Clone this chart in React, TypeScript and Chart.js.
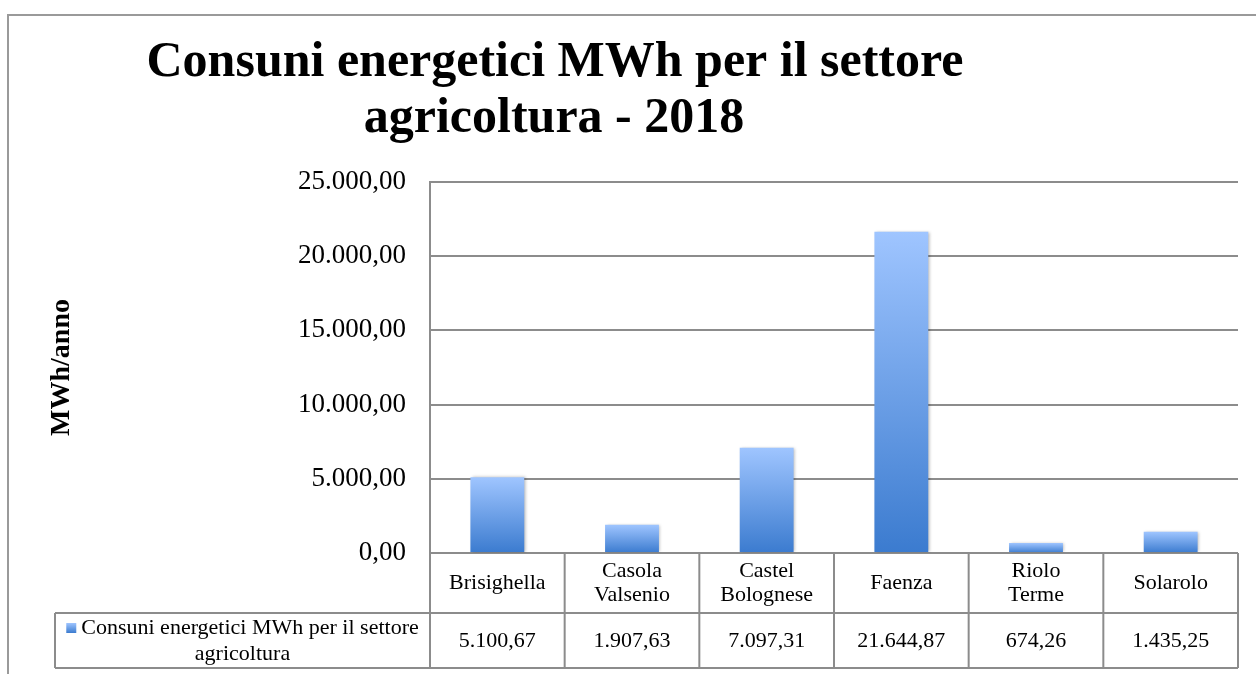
import React, { useEffect, useRef } from "react";
import { Chart, registerables } from "chart.js";

Chart.register(...registerables);

const titleLines = ["Consuni energetici MWh per il settore", "agricoltura - 2018"];
const yAxisTitle = "MWh/anno";
const categories: string[][] = [
  ["Brisighella"],
  ["Casola", "Valsenio"],
  ["Castel", "Bolognese"],
  ["Faenza"],
  ["Riolo", "Terme"],
  ["Solarolo"],
];
const seriesName = ["Consuni energetici MWh per il settore", "agricoltura"];
const values = [5100.67, 1907.63, 7097.31, 21644.87, 674.26, 1435.25];
const yMin = 0;
const yMax = 25000;
const yStep = 5000;

function fmtIt(v: number): string {
  const [i, d] = Math.abs(v).toFixed(2).split(".");
  const ii = i.replace(/\B(?=(\d{3})+(?!\d))/g, ".");
  return (v < 0 ? "-" : "") + ii + "," + d;
}

const LINE = "#8c8c8c";
const TOP_COL = "#9fc5ff";
const BOT_COL = "#3b7bcf";

const decorPlugin = {
  id: "decor",
  beforeDraw(chart: any) {
    const ctx = chart.ctx;
    ctx.save();
    ctx.fillStyle = "#fff";
    ctx.fillRect(0, 0, chart.width, chart.height);
    // frame
    ctx.strokeStyle = "#9a9a9a";
    ctx.lineWidth = 2;
    ctx.beginPath();
    ctx.moveTo(8, chart.height);
    ctx.lineTo(8, 15);
    ctx.lineTo(chart.width, 15);
    ctx.stroke();
    // title
    ctx.fillStyle = "#000";
    ctx.font = 'bold 50px "Liberation Serif"';
    ctx.textAlign = "center";
    ctx.textBaseline = "middle";
    ctx.fillText(titleLines[0], 555, 63);
    ctx.fillText(titleLines[1], 554, 119);
    ctx.restore();
  },
  beforeDatasetsDraw(chart: any) {
    const ctx = chart.ctx;
    ctx.save();
    ctx.shadowColor = "rgba(0,0,0,0.28)";
    ctx.shadowBlur = 3;
    ctx.shadowOffsetX = 1.5;
    ctx.shadowOffsetY = 0;
  },
  afterDatasetsDraw(chart: any) {
    chart.ctx.restore();
  },
  afterDraw(chart: any) {
    const ctx = chart.ctx;
    const xs = chart.scales.x;
    const area = chart.chartArea;
    const n = categories.length;
    const colW = (area.right - area.left) / n;
    const top = area.bottom;
    const mid = top + 60;
    const bot = mid + 55;
    const legLeft = 55;
    ctx.save();
    ctx.strokeStyle = LINE;
    ctx.lineWidth = 2;
    ctx.beginPath();
    ctx.moveTo(legLeft, mid);
    ctx.lineTo(area.right, mid);
    ctx.moveTo(legLeft, bot);
    ctx.lineTo(area.right, bot);
    ctx.moveTo(legLeft, mid);
    ctx.lineTo(legLeft, bot);
    for (let i = 0; i <= n; i++) {
      const x = i < n ? xs.getPixelForValue(i) - colW / 2 : xs.getPixelForValue(n - 1) + colW / 2;
      ctx.moveTo(x, top);
      ctx.lineTo(x, bot);
    }
    ctx.stroke();

    ctx.fillStyle = "#000";
    ctx.textAlign = "center";
    ctx.textBaseline = "middle";
    ctx.font = '22px "Liberation Serif"';
    const hc = (top + mid) / 2;
    const vc = (mid + bot) / 2;
    for (let i = 0; i < n; i++) {
      const cx = xs.getPixelForValue(i);
      const lines = categories[i];
      const lh = 24;
      lines.forEach((l, k) => {
        ctx.fillText(l, cx, hc + (k - (lines.length - 1) / 2) * lh);
      });
      ctx.fillText(fmtIt(values[i]), cx, vc + 1);
    }
    // legend cell
    const lc = (legLeft + area.left) / 2;
    const w1 = ctx.measureText(seriesName[0]).width;
    const sq = 10;
    const gap = 5;
    const total = sq + gap + w1;
    const sx = lc - total / 2;
    const y1 = mid + 15;
    const g = ctx.createLinearGradient(0, y1 - sq / 2, 0, y1 + sq / 2);
    g.addColorStop(0, TOP_COL);
    g.addColorStop(1, BOT_COL);
    ctx.fillStyle = g;
    ctx.fillRect(sx, y1 - sq / 2, sq, sq);
    ctx.fillStyle = "#000";
    ctx.textAlign = "left";
    ctx.fillText(seriesName[0], sx + sq + gap, y1);
    ctx.textAlign = "center";
    ctx.fillText(seriesName[1], lc, mid + 41);
    ctx.restore();
  },
};

export default function App() {
  const ref = useRef<HTMLCanvasElement | null>(null);
  useEffect(() => {
    document.body.style.margin = "0";
    const canvas = ref.current;
    if (!canvas) return;
    const chart = new Chart(canvas, {
      type: "bar",
      data: {
        labels: categories.map((c) => c.join(" ")),
        datasets: [
          {
            label: seriesName.join(" "),
            data: values,
            backgroundColor: (c: any) => {
              const ch = c.chart;
              const y = ch.scales && ch.scales.y;
              if (!y || c.type !== "data") return "#6e9fe6";
              const t = y.getPixelForValue(c.raw);
              const b = y.getPixelForValue(0);
              if (!isFinite(t) || !isFinite(b) || t === b) return "#6e9fe6";
              const g = ch.ctx.createLinearGradient(0, t, 0, b);
              g.addColorStop(0, TOP_COL);
              g.addColorStop(1, BOT_COL);
              return g;
            },
            borderWidth: 0,
            barPercentage: 0.4,
            categoryPercentage: 1,
          },
        ],
      },
      options: {
        animation: false,
        responsive: true,
        maintainAspectRatio: false,
        events: [],
        layout: { padding: { left: 0, top: 182, right: 18, bottom: 121 } },
        plugins: {
          legend: { display: false },
          title: { display: false },
          tooltip: { enabled: false },
        },
        scales: {
          x: { display: false },
          y: {
            min: yMin,
            max: yMax,
            afterFit: (s: any) => {
              s.width = 430;
            },
            ticks: {
              stepSize: yStep,
              padding: 24,
              color: "#000",
              font: { family: '"Liberation Serif"', size: 27 },
              callback: (v: any) => fmtIt(Number(v)),
            },
            grid: { color: LINE, lineWidth: 2, drawTicks: false },
            border: { display: true, color: LINE, width: 2 },
            title: {
              display: true,
              text: yAxisTitle,
              color: "#000",
              font: { family: '"Liberation Serif"', size: 28, weight: "bold" },
              padding: { top: 45, bottom: 0 },
            },
          },
        },
      },
      plugins: [decorPlugin],
    });
    return () => chart.destroy();
  }, []);
  return (
    <div style={{ width: 1256, height: 674, position: "relative" }}>
      <canvas ref={ref} style={{ display: "block" }} />
    </div>
  );
}
